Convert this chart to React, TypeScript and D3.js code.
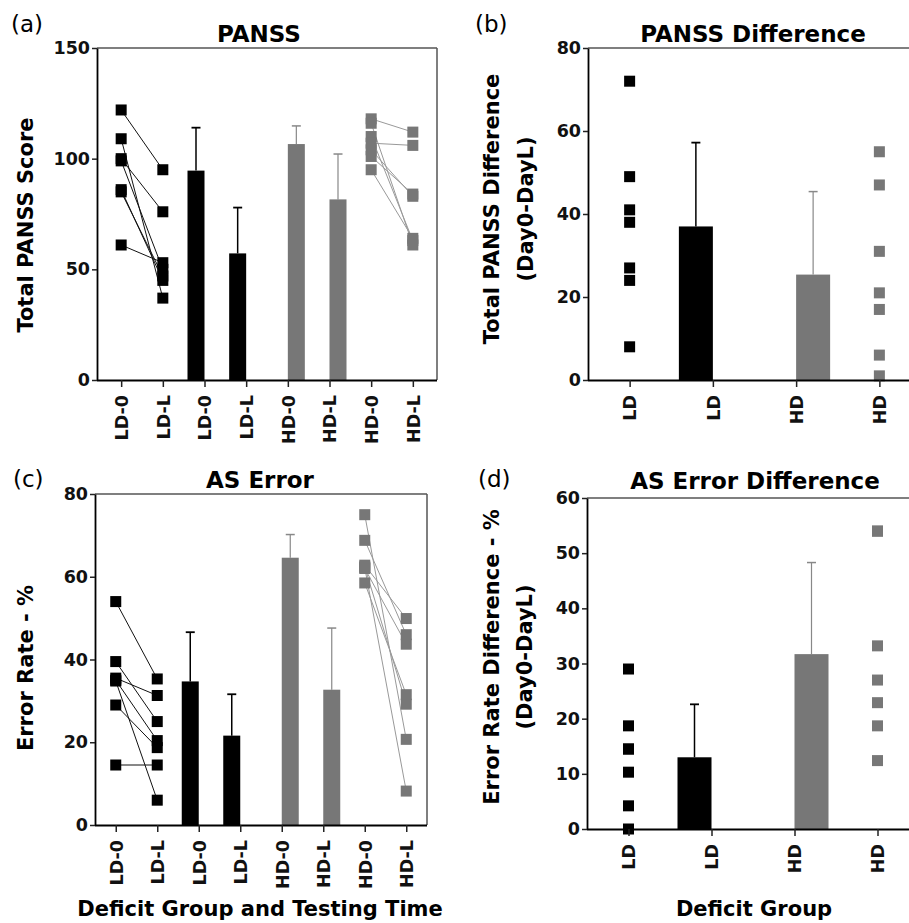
import { useRef, useEffect } from 'react';
import * as d3 from 'd3';

// category labels
const timeCats = ['LD-0', 'LD-L', 'LD-0', 'LD-L', 'HD-0', 'HD-L', 'HD-0', 'HD-L'];
const groupCats = ['LD', 'LD', 'HD', 'HD'];

// PANSS, paired subjects (Day0 -> DayL)
const panssLD0 = [122, 109, 100, 99, 86, 85, 61];
const panssLDL = [95, 37, 76, 50, 45, 47, 53];
const panssHD0 = [118, 116, 110, 107, 104, 101, 95];
const panssHDL = [112, 61, 63, 106, 83, 84, 64];
const panssMean = [94.6, 57.2, 106.6, 81.6];
const panssSD = [19.4, 20.7, 8.2, 20.5];

// PANSS difference
const panssDiffLD = [72, 49, 41, 38, 27, 24, 8];
const panssDiffHD = [55, 47, 31, 21, 17, 6, 1];
const panssDiffMean = [37, 25.4];
const panssDiffSD = [20.2, 20];

// AS error rate (%)
const asLD0 = [54, 39.5, 35.5, 35, 34.8, 29, 14.5];
const asLDL = [35.3, 25, 31.3, 20.4, 6, 18.7, 14.5];
const asHD0 = [75, 62.2, 68.8, 62.8, 58.5, 62.4, 62];
const asHDL = [20.7, 8.2, 46, 49.9, 31.5, 29.2, 43.7];
const asMean = [34.7, 21.6, 64.6, 32.7];
const asSD = [11.9, 10, 5.6, 14.9];

// AS error difference
const asDiffLD = [29, 18.7, 14.5, 14.5, 10.3, 4.2, 0];
const asDiffHD = [54, 54, 33.2, 27, 22.9, 18.7, 12.4];
const asDiffMean = [13, 31.7];
const asDiffSD = [9.6, 16.6];

const BLACK = '#000';
const GRAY = '#777';
const FONT = 'DejaVu Sans, Arial, sans-serif';

function drawPanel(svg, c) {
  const g = svg.append('g');
  const x = d3.scalePoint()
    .domain(d3.range(c.cats.length))
    .range([c.left, c.right])
    .padding(c.padding);
  const y = d3.scaleLinear().domain([0, c.yMax]).range([c.bottom, c.top]);

  // frame (top / right)
  g.append('line')
    .attr('x1', c.left).attr('x2', c.frameRight ? c.right : 909)
    .attr('y1', c.top).attr('y2', c.top)
    .attr('stroke', '#555').attr('stroke-width', 1.5);
  if (c.frameRight) {
    g.append('line')
      .attr('x1', c.right).attr('x2', c.right)
      .attr('y1', c.top).attr('y2', c.bottom)
      .attr('stroke', '#555').attr('stroke-width', 1.5);
  }

  // bars + error bars
  c.bars.forEach(b => {
    const cx = x(b.idx);
    const x0 = b.color === BLACK ? cx - c.barW : cx;
    const mid = x0 + c.barW / 2;
    const eColor = b.color === BLACK ? BLACK : '#888';
    const ew = b.color === BLACK ? 1.5 : 1.2;
    g.append('line')
      .attr('x1', mid).attr('x2', mid)
      .attr('y1', y(b.mean)).attr('y2', y(b.mean + b.sd))
      .attr('stroke', eColor).attr('stroke-width', ew);
    g.append('line')
      .attr('x1', mid - 4.5).attr('x2', mid + 4.5)
      .attr('y1', y(b.mean + b.sd)).attr('y2', y(b.mean + b.sd))
      .attr('stroke', eColor).attr('stroke-width', ew + 0.3);
    g.append('rect')
      .attr('x', x0).attr('width', c.barW)
      .attr('y', y(b.mean)).attr('height', y(0) - y(b.mean))
      .attr('fill', b.color);
  });

  // paired lines
  (c.pairs || []).forEach(p => {
    p.a.forEach((v, i) => {
      g.append('line')
        .attr('x1', x(p.from)).attr('y1', y(v))
        .attr('x2', x(p.to)).attr('y2', y(p.b[i]))
        .attr('stroke', p.color === BLACK ? '#111' : '#999')
        .attr('stroke-width', 1);
    });
  });

  // squares
  const s = 11;
  c.dots.forEach(d => {
    g.append('g').selectAll('rect')
      .data(d.values)
      .join('rect')
      .attr('x', x(d.idx) - s / 2)
      .attr('y', v => y(v) - s / 2)
      .attr('width', s).attr('height', s)
      .attr('fill', d.color);
  });

  // axes
  const yAxis = g.append('g')
    .attr('transform', `translate(${c.left},0)`)
    .call(d3.axisLeft(y).tickValues(d3.range(0, c.yMax + 0.1, c.yStep)).tickSize(5).tickPadding(2).tickSizeOuter(0));
  const xAxis = g.append('g')
    .attr('transform', `translate(0,${c.bottom})`)
    .call(d3.axisBottom(x).tickFormat(i => c.cats[i]).tickSize(7).tickSizeOuter(0));
  xAxis.select('.domain').attr('d', `M${c.left},0.5H${c.frameRight ? c.right : 909}`);
  [yAxis, xAxis].forEach(a => {
    a.select('.domain').attr('stroke', BLACK).attr('stroke-width', 1.8);
    a.selectAll('.tick line').attr('stroke', '#222').attr('stroke-width', 1.5);
    a.selectAll('text')
      .attr('font-family', FONT).attr('font-weight', 'bold')
      .attr('font-size', 17.5).attr('fill', '#111');
  });
  xAxis.selectAll('text')
    .attr('transform', 'rotate(-90)')
    .attr('text-anchor', 'end')
    .attr('x', -15).attr('y', 0).attr('dy', '0.36em');

  // title and letter
  g.append('text')
    .attr('x', c.titleX).attr('y', c.titleY)
    .attr('text-anchor', 'middle')
    .attr('font-family', FONT).attr('font-weight', 'bold').attr('font-size', 23)
    .text(c.title);
  g.append('text')
    .attr('x', c.letterX).attr('y', c.letterY)
    .attr('font-family', FONT).attr('font-size', 23)
    .text(c.letter);

  // y label (one or two lines)
  c.yLabel.forEach((t, i) => {
    g.append('text')
      .attr('transform', `translate(${c.yLabelX[i]},${c.yLabelY}) rotate(-90)`)
      .attr('text-anchor', 'middle')
      .attr('font-family', FONT).attr('font-weight', 'bold').attr('font-size', 21)
      .text(t);
  });

  if (c.xLabel) {
    g.append('text')
      .attr('x', c.xLabelX).attr('y', 916)
      .attr('text-anchor', 'middle')
      .attr('font-family', FONT).attr('font-weight', 'bold').attr('font-size', 21)
      .text(c.xLabel);
  }
}

const App = () => {
  const svgRef = useRef(null);

  useEffect(() => {
    const svg = d3.select(svgRef.current);
    svg.selectAll('*').remove();

    drawPanel(svg, {
      left: 97, right: 437, top: 48, bottom: 380, padding: 0.58, frameRight: true,
      yMax: 150, yStep: 50, cats: timeCats, barW: 17,
      title: 'PANSS', titleX: 259, titleY: 42, letter: '(a)', letterX: 11, letterY: 32,
      yLabel: ['Total PANSS Score'], yLabelX: [33], yLabelY: 225,
      bars: panssMean.map((m, i) => ({ idx: i + 2, mean: m, sd: panssSD[i], color: i < 2 ? BLACK : GRAY })),
      pairs: [
        { from: 0, to: 1, a: panssLD0, b: panssLDL, color: BLACK },
        { from: 6, to: 7, a: panssHD0, b: panssHDL, color: GRAY },
      ],
      dots: [
        { idx: 0, values: panssLD0, color: BLACK },
        { idx: 1, values: panssLDL, color: BLACK },
        { idx: 6, values: panssHD0, color: GRAY },
        { idx: 7, values: panssHDL, color: GRAY },
      ],
    });

    drawPanel(svg, {
      left: 588, right: 921, top: 48, bottom: 380, padding: 0.5, frameRight: false,
      yMax: 80, yStep: 20, cats: groupCats, barW: 34,
      title: 'PANSS Difference', titleX: 753, titleY: 42, letter: '(b)', letterX: 475, letterY: 32,
      yLabel: ['Total PANSS Difference', '(Day0-DayL)'], yLabelX: [499, 533], yLabelY: 209,
      bars: panssDiffMean.map((m, i) => ({ idx: i + 1, mean: m, sd: panssDiffSD[i], color: i === 0 ? BLACK : GRAY })),
      dots: [
        { idx: 0, values: panssDiffLD, color: BLACK },
        { idx: 3, values: panssDiffHD, color: GRAY },
      ],
    });

    drawPanel(svg, {
      left: 95, right: 427, top: 494, bottom: 825, padding: 0.5, frameRight: true,
      yMax: 80, yStep: 20, cats: timeCats, barW: 17,
      title: 'AS Error', titleX: 260, titleY: 488, letter: '(c)', letterX: 13, letterY: 487,
      yLabel: ['Error Rate - %'], yLabelX: [33], yLabelY: 668,
      bars: asMean.map((m, i) => ({ idx: i + 2, mean: m, sd: asSD[i], color: i < 2 ? BLACK : GRAY })),
      pairs: [
        { from: 0, to: 1, a: asLD0, b: asLDL, color: BLACK },
        { from: 6, to: 7, a: asHD0, b: asHDL, color: GRAY },
      ],
      dots: [
        { idx: 0, values: asLD0, color: BLACK },
        { idx: 1, values: asLDL, color: BLACK },
        { idx: 6, values: asHD0, color: GRAY },
        { idx: 7, values: asHDL, color: GRAY },
      ],
      xLabel: 'Deficit Group and Testing Time', xLabelX: 260,
    });

    drawPanel(svg, {
      left: 587, right: 919, top: 498, bottom: 829, padding: 0.5, frameRight: false,
      yMax: 60, yStep: 10, cats: groupCats, barW: 34,
      title: 'AS Error Difference', titleX: 755, titleY: 489, letter: '(d)', letterX: 478, letterY: 487,
      yLabel: ['Error Rate Difference - %', '(Day0-DayL)'], yLabelX: [499, 532], yLabelY: 657,
      bars: asDiffMean.map((m, i) => ({ idx: i + 1, mean: m, sd: asDiffSD[i], color: i === 0 ? BLACK : GRAY })),
      dots: [
        { idx: 0, values: asDiffLD, color: BLACK },
        { idx: 3, values: asDiffHD, color: GRAY },
      ],
      xLabel: 'Deficit Group', xLabelX: 754,
    });
  }, []);

  return (
    <svg ref={svgRef} width={909} height={923}
      style={{ position: 'absolute', left: 0, top: 0, background: '#fff' }} />
  );
};

export default App;
